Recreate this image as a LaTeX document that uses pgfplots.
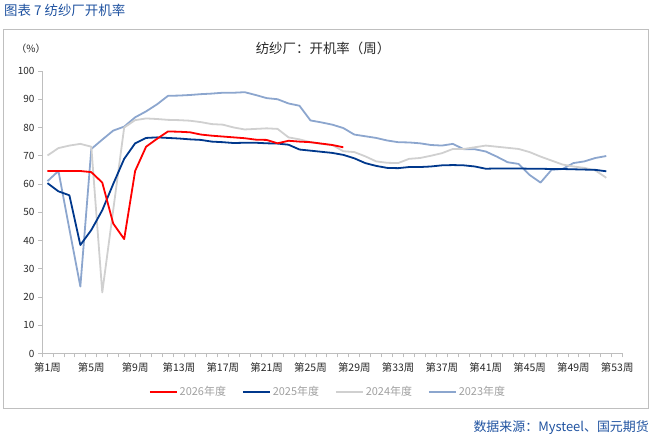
\documentclass[border=0pt]{standalone}
\usepackage{pgfplots}
\pgfplotsset{compat=1.18}
\usepackage{fontspec}
\setmainfont{Noto Sans CJK SC}
\definecolor{c26}{RGB}{255,0,0}
\definecolor{c25}{RGB}{0,56,140}
\definecolor{c24}{RGB}{208,208,208}
\definecolor{c23}{RGB}{140,166,206}
\definecolor{axisgray}{RGB}{190,190,190}
\definecolor{framegray}{RGB}{191,191,191}
\definecolor{titleblue}{RGB}{31,82,160}
\definecolor{legendgray}{RGB}{160,160,160}
\definecolor{txt}{RGB}{40,40,40}
\begin{document}
\begin{tikzpicture}[x=1bp,y=1bp]
\useasboundingbox (0,0) rectangle (650,436);
\draw[framegray, line width=1bp] (3.5,27) rectangle (648.5,406.5);
\node[anchor=west, text=titleblue, font=\fontsize{13.5}{15}\selectfont, inner sep=0pt] at (4,426) {图表\ 7\ 纺纱厂开机率};
\node[text=txt, font=\fontsize{10}{12}\selectfont, inner sep=0pt] at (31,387) {（\%）};
\node[text=txt, font=\fontsize{13.5}{15}\selectfont, inner sep=0pt] at (323,388) {纺纱厂：开机率（周）};
\node[anchor=east, text=titleblue, font=\fontsize{13}{15}\selectfont, inner sep=0pt] at (649,8) {数据来源：Mysteel、国元期货};
\begin{axis}[
  at={(42bp,82.5bp)}, anchor=south west,
  scale only axis, width=580.7bp, height=282.5bp,
  xmin=0.5, xmax=53.5, ymin=0, ymax=100,
  axis lines*=left,
  axis line style={draw=axisgray, line width=0.8bp, -},
  xtick={1,5,...,53},
  xticklabels={第1周,第5周,第9周,第13周,第17周,第21周,第25周,第29周,第33周,第37周,第41周,第45周,第49周,第53周},
  minor xtick={0.5,1.5,...,53.5},
  ytick={0,10,...,100},
  tick align=outside,
  major tick length=4bp, minor tick length=4bp,
  major x tick style={draw=none},
  minor x tick style={draw=axisgray, line width=0.8bp},
  ytick style={draw=axisgray, line width=0.8bp},
  tick label style={text=txt},
  xticklabel style={font=\fontsize{10.5}{12}\selectfont, yshift=-2bp},
  yticklabel style={font=\fontsize{10}{12}\selectfont},
  /pgf/number format/assume math mode=true,
  clip=false,
  legend columns=4,
  reverse legend,
  legend style={at={(0.4925,-0.136)}, anchor=center, draw=none, fill=none,
    font=\fontsize{11}{13}\selectfont, text=legendgray,
    /tikz/every even column/.append style={column sep=14bp}},
  legend image code/.code={\draw[#1] (0bp,0bp) -- (27bp,0bp);},
  every axis plot/.append style={line width=1.8bp, mark=none, line join=round},
]
\addplot[c23] coordinates {
(1,61)(2,64.6)(3,44)(4,23.7)(5,72.4)(6,75.7)(7,78.9)(8,80.3)(9,83.6)(10,85.7)
(11,88.2)(12,91.2)(13,91.3)(14,91.5)(15,91.8)(16,92)(17,92.3)(18,92.3)(19,92.5)(20,91.5)
(21,90.4)(22,90)(23,88.5)(24,87.7)(25,82.5)(26,81.8)(27,81)(28,79.8)(29,77.5)(30,76.9)
(31,76.3)(32,75.4)(33,74.8)(34,74.7)(35,74.4)(36,73.8)(37,73.6)(38,74.2)(39,72.3)(40,72.3)
(41,71.5)(42,69.7)(43,67.7)(44,67.1)(45,63.2)(46,60.5)(47,65)(48,65.3)(49,67.4)(50,68)
(51,69.2)(52,69.9)};
\addlegendentry{2023年度}
\addplot[c24] coordinates {
(1,70.1)(2,72.7)(3,73.6)(4,74.2)(5,73.2)(6,21.6)(7,50.8)(8,80)(9,82.6)(10,83.2)
(11,83)(12,82.7)(13,82.6)(14,82.4)(15,81.9)(16,81.2)(17,81)(18,80)(19,79.3)(20,79.5)
(21,79.7)(22,79.5)(23,76.5)(24,75.8)(25,74.8)(26,74.2)(27,73.8)(28,71.6)(29,71.3)(30,69.8)
(31,68)(32,67.5)(33,67.4)(34,68.9)(35,69.2)(36,70)(37,70.9)(38,72.4)(39,72.4)(40,73)
(41,73.6)(42,73.2)(43,72.8)(44,72.4)(45,71.3)(46,69.7)(47,68.3)(48,66.9)(49,66.2)(50,65.7)
(51,64.8)(52,62.2)};
\addlegendentry{2024年度}
\addplot[c25] coordinates {
(1,60.3)(2,57.4)(3,56)(4,38.4)(5,43.7)(6,50.7)(7,60)(8,68.9)(9,74.4)(10,76.3)
(11,76.5)(12,76.3)(13,76.1)(14,75.8)(15,75.6)(16,75)(17,74.8)(18,74.5)(19,74.6)(20,74.6)
(21,74.4)(22,74.3)(23,73.9)(24,72.2)(25,71.8)(26,71.4)(27,71)(28,70.3)(29,69.1)(30,67.4)
(31,66.4)(32,65.7)(33,65.6)(34,66)(35,66)(36,66.2)(37,66.6)(38,66.7)(39,66.6)(40,66.2)
(41,65.4)(42,65.5)(43,65.5)(44,65.5)(45,65.4)(46,65.4)(47,65.3)(48,65.3)(49,65.2)(50,65.1)
(51,65.0)(52,64.5)};
\addlegendentry{2025年度}
\addplot[c26] coordinates {
(1,64.6)(2,64.6)(3,64.6)(4,64.6)(5,64.2)(6,60.5)(7,46)(8,40.5)(9,64.6)(10,73.2)
(11,76)(12,78.6)(13,78.5)(14,78.3)(15,77.5)(16,77.1)(17,76.8)(18,76.5)(19,76.2)(20,75.7)
(21,75.6)(22,74.4)(23,75.3)(24,75.0)(25,74.8)(26,74.3)(27,73.8)(28,73.0)};
\addlegendentry{2026年度}
\end{axis}
\end{tikzpicture}
\end{document}
